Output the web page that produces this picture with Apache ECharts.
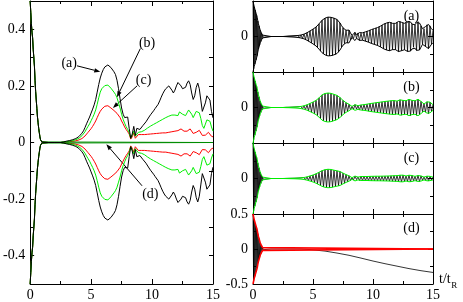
<!DOCTYPE html>
<html><head><meta charset="utf-8">
<script src="https://cdn.jsdelivr.net/npm/echarts@6/dist/echarts.min.js"></script>
<style>html,body{margin:0;padding:0;background:#fff}#c{width:463px;height:302px}</style>
</head><body><div id="c"></div>
<script>
// ---- data ----
const xTicks = [0, 5, 10, 15];
const tInit = [0,0.05,0.1,0.15,0.2,0.25,0.3,0.35,0.4,0.45,0.5,0.55,0.6,0.65,0.7,0.75,0.8,0.85,0.9,0.95,1.0];
const envInit = [0.50,0.46,0.42,0.39,0.37,0.33,0.30,0.27,0.22,0.18,0.15,0.12,0.09,0.07,0.05,0.035,0.02,0.01,0.005,0.002,0];
const tGap = [1.5, 2.0, 2.5];
const gapVals = [0, 0, 0];
// main sampling grid: 2.75 .. 15 in steps of 0.125 (half period of the oscillation)
const tMain = [];
for (let k = 0; k < 99; k++) tMain.push(2.75 + 0.125 * k);
const envBlack = [0.002,0.003,0.005,0.006,0.007,0.009,0.01,0.012,0.014,0.017,
 0.021,0.026,0.033,0.041,0.053,0.066,0.078,0.09,0.104,0.118,
 0.133,0.152,0.178,0.205,0.228,0.245,0.258,0.267,0.273,0.274,
 0.27,0.265,0.258,0.25,0.24,0.22,0.19,0.155,0.122,0.1,
 0.088,0.086,0.09,0.05,0.015,0.03,0.057,0.025,0.05,0.055,
 0.046,0.052,0.06,0.066,0.073,0.08,0.09,0.098,0.105,0.112,
 0.12,0.126,0.135,0.147,0.16,0.172,0.182,0.19,0.196,0.2,
 0.199,0.185,0.175,0.185,0.2,0.212,0.212,0.2,0.19,0.186,
 0.195,0.21,0.218,0.205,0.175,0.152,0.165,0.195,0.21,0.19,
 0.15,0.11,0.11,0.14,0.165,0.17,0.15,0.11,0.087];
const envGreen = [0.002,0.002,0.003,0.004,0.005,0.006,0.007,0.008,0.01,0.012,
 0.015,0.019,0.024,0.03,0.038,0.048,0.057,0.066,0.077,0.088,
 0.1,0.115,0.135,0.158,0.178,0.19,0.197,0.201,0.204,0.203,
 0.199,0.192,0.185,0.178,0.17,0.158,0.14,0.122,0.1,0.082,
 0.068,0.056,0.046,0.035,0.015,0.025,0.04,0.022,0.025,0.036,
 0.036,0.038,0.04,0.043,0.047,0.051,0.055,0.058,0.061,0.064,
 0.067,0.07,0.073,0.076,0.079,0.082,0.085,0.088,0.09,0.093,
 0.095,0.097,0.098,0.097,0.09,0.095,0.108,0.108,0.1,0.093,
 0.095,0.105,0.115,0.115,0.1,0.088,0.095,0.11,0.116,0.105,
 0.085,0.06,0.05,0.065,0.08,0.087,0.075,0.055,0.04];
const envRed = [0.001,0.001,0.002,0.002,0.003,0.003,0.004,0.005,0.006,0.007,
 0.009,0.011,0.014,0.018,0.023,0.03,0.036,0.042,0.049,0.057,
 0.066,0.076,0.088,0.1,0.11,0.118,0.124,0.128,0.13,0.13,
 0.127,0.122,0.117,0.113,0.108,0.103,0.098,0.088,0.076,0.066,
 0.055,0.046,0.038,0.03,0.012,0.02,0.034,0.015,0.02,0.028,
 0.028,0.028,0.028,0.028,0.028,0.029,0.03,0.03,0.031,0.031,
 0.032,0.032,0.032,0.033,0.033,0.034,0.034,0.034,0.035,0.036,
 0.037,0.038,0.039,0.04,0.04,0.042,0.046,0.048,0.047,0.04,
 0.035,0.04,0.046,0.048,0.042,0.032,0.03,0.036,0.042,0.043,
 0.036,0.025,0.02,0.026,0.033,0.036,0.03,0.022,0.02];
const tDrift = [1.5,2,3,4,4.5,5,6,7,8,9,10,11,12,13,14,15];
const drift = [0,0,0,0,-0.005,-0.012,-0.03,-0.058,-0.09,-0.13,-0.172,-0.21,-0.245,-0.28,-0.31,-0.335];
const leftLabels = ['(a)','(b)','(c)','(d)'];
const panelLabels = ['(a)','(b)','(c)','(d)'];
// annotation anchors in data units (left panel)
const arrowFrom = [[3.84, 0.271], [9.04, 0.332], [8.77, 0.200], [9.18, -0.153]];
const arrowTo = [[5.75, 0.25], [7.12, 0.16], [6.79, 0.122], [6.25, -0.006]];
const labelPos = [[3.2, 0.281], [9.59, 0.35], [9.31, 0.221], [9.86, -0.182]];
const panelLabelPos = [13.2, 0.29];

// ---- helpers ----
const FONT = '"Liberation Serif", "Times New Roman", "DejaVu Serif", serif';
const tAll = tInit.concat(tGap, tMain);
const full = m => envInit.concat(gapVals, m);
const pos = (t, v) => t.map((x, i) => [x, v[i]]);
const neg = (t, v) => t.map((x, i) => [x, -v[i]]);
const osc = (t, v) => t.map((x, i) => [x, i % 2 === 0 ? v[i] : -v[i]]);

const grids = [{left: 30, top: 1, width: 183, height: 284}];
for (let i = 0; i < 4; i++) grids.push({left: 253, top: 1 + 71 * i, width: 180, height: 71});

const RICH = {s: {fontFamily: FONT, fontSize: 14, color: '#000'}};
const wrap = s => s === '' ? '' : '{s|' + s + '}';
const lbl = (show, fmt) => ({show: show, color: '#000', fontFamily: FONT, fontSize: 14, rich: RICH, formatter: v => wrap(fmt(v))});
const xAxes = [], yAxes = [];
grids.forEach((g, gi) => {
  const showX = gi === 0 || gi === 4;
  ['bottom', 'top'].forEach(p => xAxes.push({
    type: 'value', gridIndex: gi, position: p, min: 0, max: 15, interval: 5,
    axisLine: {show: true, onZero: false, lineStyle: {color: '#000', width: 1}},
    axisTick: {show: true, inside: true, length: 5, lineStyle: {color: '#000'}},
    minorTick: {show: true, splitNumber: 2, length: 3, lineStyle: {color: '#000'}},
    splitLine: {show: false}, minorSplitLine: {show: false},
    axisLabel: Object.assign(lbl(p === 'bottom' && showX, v => xTicks.indexOf(v) >= 0 ? String(v) : ''), {margin: 4})
  }));
  ['left', 'right'].forEach(p => {
    let ax;
    if (gi === 0) {
      ax = {min: -0.5, max: 0.5, interval: 0.1,
        axisTick: {show: true, inside: true, length: 4, lineStyle: {color: '#000'}},
        minorTick: {show: false},
        axisLabel: Object.assign(lbl(p === 'left', v => { const r = Math.round(v * 10); if (r % 2 !== 0 || Math.abs(r) >= 5) return ''; return r === 0 ? '0' : String(r / 10); }), {margin: 5})};
    } else {
      ax = {min: -0.5, max: 0.5, interval: 0.5,
        axisTick: {show: true, inside: true, length: 5, lineStyle: {color: '#000'}},
        minorTick: {show: true, splitNumber: 2, length: 3, lineStyle: {color: '#000'}},
        axisLabel: Object.assign(lbl(p === 'left', v => { const r = Math.round(v * 10); if (gi === 4) return r === 0 ? '0' : String(r / 10); return r === 0 ? '0' : ''; }), {margin: 5, showMinLabel: true, showMaxLabel: true})};
    }
    yAxes.push(Object.assign({type: 'value', gridIndex: gi, position: p,
      axisLine: {show: true, onZero: false, lineStyle: {color: '#000', width: 1}},
      splitLine: {show: false}, minorSplitLine: {show: false}}, ax));
  });
});

const RED = '#ff0000', GREEN = '#00ee00', DKGREEN = '#008c00', BLACK = '#000000';
const line = (gi, data, color, w) => ({
  type: 'line', xAxisIndex: 2 * gi, yAxisIndex: 2 * gi, data: data, showSymbol: false, symbol: 'none',
  lineStyle: {color: color, width: w || 1}, silent: true, animation: false
});

const series = [];
// left panel
series.push(line(0, pos(tAll, full(envRed)), RED), line(0, neg(tAll, full(envRed)), RED));
series.push(line(0, pos(tAll, full(envGreen)), GREEN), line(0, neg(tAll, full(envGreen)), GREEN));
const tD = tInit.concat([15]), vD = envInit.concat([0]);
series.push(line(0, pos(tD, vD), DKGREEN), line(0, neg(tD, vD), DKGREEN));
series.push(line(0, pos(tAll, full(envBlack)), BLACK), line(0, neg(tAll, full(envBlack)), BLACK));
// right panels
const panelEnv = [envBlack, envGreen, envRed];
const panelEnvColor = [BLACK, GREEN, GREEN];
for (let i = 0; i < 3; i++) {
  const gi = i + 1, env = full(panelEnv[i]);
  series.push(line(gi, osc(tAll, env), BLACK, 0.8));
  series.push(line(gi, pos(tAll, env), panelEnvColor[i]), line(gi, neg(tAll, env), panelEnvColor[i]));
}
// panel (d)
series.push(line(4, osc(tInit, envInit).concat(pos(tDrift, drift)), BLACK, 0.8));
series.push(line(4, pos(tD, vD), RED, 1.6), line(4, neg(tD, vD), RED, 1.6));

const chart = echarts.init(document.getElementById('c'), null, {renderer: 'canvas'});
chart.setOption({
  animation: false,
  backgroundColor: '#fff',
  textStyle: {fontFamily: FONT},
  grid: grids,
  xAxis: xAxes,
  yAxis: yAxes,
  series: series
});

// annotations placed through the chart's own scales
const gfx = [];
const txt = (p, s, size) => ({type: 'text', x: p[0], y: p[1], silent: true,
  style: {text: s, fill: '#000', font: size + 'px ' + FONT, align: 'center', verticalAlign: 'middle'}});
for (let i = 0; i < 4; i++) {
  const a = chart.convertToPixel({gridIndex: 0}, arrowFrom[i]);
  const b = chart.convertToPixel({gridIndex: 0}, arrowTo[i]);
  const dx = b[0] - a[0], dy = b[1] - a[1], L = Math.hypot(dx, dy), ux = dx / L, uy = dy / L;
  const hl = 6, hw = 2.2;
  const base = [b[0] - ux * hl, b[1] - uy * hl];
  gfx.push({type: 'line', silent: true, shape: {x1: a[0], y1: a[1], x2: base[0], y2: base[1]}, style: {stroke: '#000', lineWidth: 1}});
  gfx.push({type: 'polygon', silent: true, shape: {points: [b, [base[0] - uy * hw, base[1] + ux * hw], [base[0] + uy * hw, base[1] - ux * hw]]}, style: {fill: '#000'}});
  gfx.push(txt(chart.convertToPixel({gridIndex: 0}, labelPos[i]), leftLabels[i], 14));
}
for (let i = 0; i < 4; i++) {
  gfx.push(txt(chart.convertToPixel({gridIndex: i + 1}, panelLabelPos), panelLabels[i], 14));
}
// axis title t/t_R next to the end of the bottom right axis
const ctx = document.createElement('canvas').getContext('2d');
ctx.font = '14px ' + FONT;
const wT = ctx.measureText('t/t').width;
const ax = chart.convertToPixel({gridIndex: 4}, [15, -0.5]);
gfx.push({type: 'text', x: ax[0] + 6, y: ax[1] - 12, silent: true, style: {text: 't/t', fill: '#000', font: '14px ' + FONT, verticalAlign: 'top'}});
gfx.push({type: 'text', x: ax[0] + 6 + wT + 0.5, y: ax[1] - 3, silent: true, style: {text: 'R', fill: '#000', font: '9px ' + FONT, verticalAlign: 'top'}});
chart.setOption({graphic: gfx});
</script>
</body></html>
